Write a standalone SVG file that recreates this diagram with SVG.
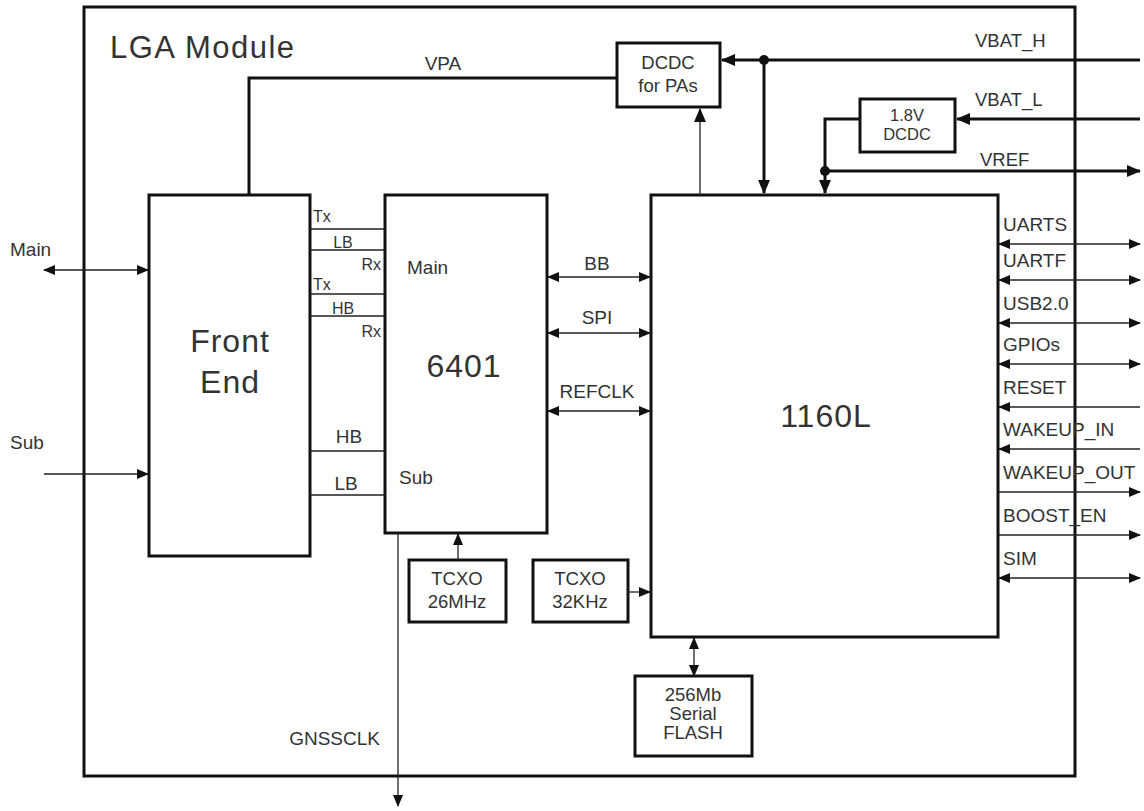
<svg xmlns="http://www.w3.org/2000/svg" width="1144" height="811" viewBox="0 0 1144 811">
<defs>
<marker id="ah" markerUnits="userSpaceOnUse" markerWidth="12" markerHeight="10" refX="11" refY="5" orient="auto-start-reverse" viewBox="0 0 12 10"><path d="M0,0 L12,5 L0,10 z" fill="#111"/></marker>
<marker id="ahb" markerUnits="userSpaceOnUse" markerWidth="14" markerHeight="12" refX="13" refY="6" orient="auto-start-reverse" viewBox="0 0 14 12"><path d="M0,0 L14,6 L0,12 z" fill="#111"/></marker>
<style>
.box{fill:#fff;stroke:#111;stroke-width:3}
.thin{fill:none;stroke:#222;stroke-width:1.3}
.thick{fill:none;stroke:#111;stroke-width:3}
text{font-family:"Liberation Sans",Arial,sans-serif;fill:#333}
.s{font-size:19px}
.xs{font-size:16px}
.m{font-size:18.5px}
.sm{font-size:16.5px}
.big{font-size:32px;letter-spacing:1px}
.c{text-anchor:middle}
</style>
</defs>
<rect width="1144" height="811" fill="#fff"/>
<g id="module">
<rect x="84" y="7" width="991" height="769" class="box" fill="none"/>
<text x="110" y="58" style="font-size:31px;letter-spacing:1.5px">LGA Module</text>
</g>
<g id="frontend"><rect x="149" y="195" width="161" height="361" class="box"/>
<text x="230" y="352" class="big c">Front</text><text x="230" y="393" class="big c">End</text></g>
<g id="chip6401"><rect x="385" y="195" width="162" height="338" class="box"/>
<text x="464" y="377" class="big c">6401</text>
<text x="407" y="274" class="s">Main</text><text x="399" y="484" class="s">Sub</text></g>
<g id="chip1160L"><rect x="651" y="195" width="347" height="442" class="box"/>
<text x="826" y="427" class="big c">1160L</text></g>
<g id="dcdcpa"><rect x="617" y="43" width="103" height="64" class="box"/>
<text x="668" y="69" class="m c">DCDC</text><text x="668" y="92" class="m c">for PAs</text></g>
<g id="dcdc18"><rect x="860" y="99" width="95" height="53" class="box"/>
<text x="907" y="121" class="sm c">1.8V</text><text x="907" y="140" class="sm c">DCDC</text></g>
<g id="tcxo26"><rect x="409" y="560" width="97" height="62" class="box"/>
<text x="457" y="585" class="m c">TCXO</text><text x="457" y="608" class="m c">26MHz</text></g>
<g id="tcxo32"><rect x="533" y="560" width="95" height="62" class="box"/>
<text x="580" y="585" class="m c">TCXO</text><text x="580" y="608" class="m c">32KHz</text></g>
<g id="flash"><rect x="635" y="676" width="117" height="80" class="box"/>
<text x="693" y="701" class="m c">256Mb</text><text x="693" y="720" class="m c">Serial</text><text x="693" y="739" class="m c">FLASH</text></g>
<g id="connectors">
<path d="M249,195 V78 H617" class="thick"/>
<text x="443" y="70" class="s c">VPA</text>
<path d="M1140,60 H722" class="thick" marker-end="url(#ahb)"/>
<path d="M764,60 V193" class="thick" marker-end="url(#ahb)"/>
<circle cx="764" cy="60" r="5" fill="#111"/>
<text x="975" y="47" class="m">VBAT_H</text>
<path d="M1140,119 H957" class="thick" marker-end="url(#ahb)"/>
<text x="975" y="106" class="m">VBAT_L</text>
<path d="M860,119 H825 V193" class="thick" marker-end="url(#ahb)"/>
<path d="M825,171 H1140" class="thick" marker-end="url(#ahb)"/>
<circle cx="825" cy="171" r="5" fill="#111"/>
<text x="980" y="166" class="m">VREF</text>
<path d="M700,195 V109" class="thin" marker-end="url(#ahb)"/>
<path d="M44,270 H148" class="thin" marker-start="url(#ah)" marker-end="url(#ah)"/>
<text x="10" y="256" class="s">Main</text>
<path d="M44,474 H148" class="thin" marker-end="url(#ah)"/>
<text x="10" y="449" class="s">Sub</text>
<path d="M310,229 H385 M310,250 H385 M310,294 H385 M310,316 H385 M310,451 H385 M310,495 H385" class="thin"/>
<text x="313" y="222" class="xs">Tx</text>
<text x="343" y="248" class="xs c">LB</text>
<text x="381" y="270" class="xs" text-anchor="end">Rx</text>
<text x="313" y="290" class="xs">Tx</text>
<text x="343" y="314" class="xs c">HB</text>
<text x="381" y="337" class="xs" text-anchor="end">Rx</text>
<text x="349" y="443" class="s c">HB</text>
<text x="346" y="490" class="s c">LB</text>
<path d="M548,277 H650" class="thin" marker-start="url(#ah)" marker-end="url(#ah)"/>
<text x="597" y="270" class="s c">BB</text>
<path d="M548,333 H650" class="thin" marker-start="url(#ah)" marker-end="url(#ah)"/>
<text x="597" y="324" class="s c">SPI</text>
<path d="M548,411 H650" class="thin" marker-start="url(#ah)" marker-end="url(#ah)"/>
<text x="597" y="398" class="s c">REFCLK</text>
<path d="M458,560 V534" class="thin" marker-end="url(#ah)"/>
<path d="M628,592 H650" class="thin" marker-end="url(#ah)"/>
<path d="M694,638 V676" class="thin" marker-start="url(#ah)" marker-end="url(#ah)"/>
<path d="M398,533 V806" class="thin" marker-end="url(#ah)"/>
<text x="380" y="745" class="s" text-anchor="end">GNSSCLK</text>
<path d="M999,244 H1140" class="thin" marker-start="url(#ah)" marker-end="url(#ah)"/>
<text x="1003" y="231" class="s">UARTS</text>
<path d="M999,280 H1140" class="thin" marker-start="url(#ah)" marker-end="url(#ah)"/>
<text x="1003" y="267" class="s">UARTF</text>
<path d="M999,323 H1140" class="thin" marker-start="url(#ah)" marker-end="url(#ah)"/>
<text x="1003" y="310" class="s">USB2.0</text>
<path d="M999,364 H1140" class="thin" marker-start="url(#ah)" marker-end="url(#ah)"/>
<text x="1003" y="351" class="s">GPIOs</text>
<path d="M1140,407 H999" class="thin" marker-end="url(#ah)"/>
<text x="1003" y="394" class="s">RESET</text>
<path d="M1140,449 H999" class="thin" marker-end="url(#ah)"/>
<text x="1003" y="436" class="s">WAKEUP_IN</text>
<path d="M999,492 H1140" class="thin" marker-end="url(#ah)"/>
<text x="1003" y="479" class="s">WAKEUP_OUT</text>
<path d="M999,535 H1140" class="thin" marker-end="url(#ah)"/>
<text x="1003" y="522" class="s">BOOST_EN</text>
<path d="M999,578 H1140" class="thin" marker-start="url(#ah)" marker-end="url(#ah)"/>
<text x="1003" y="565" class="s">SIM</text>
</g>
</svg>
